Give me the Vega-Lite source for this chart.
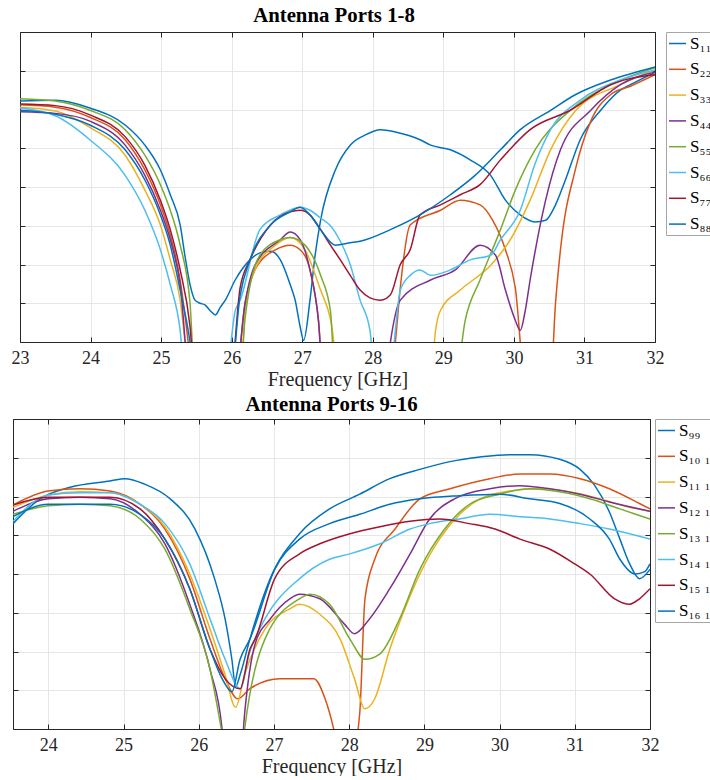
{
"$schema":"https://vega.github.io/schema/vega-lite/v6.json",
"padding":{"left":0,"top":4,"right":0,"bottom":0},
"background":"white",
"config":{
 "font":"Liberation Serif",
 "view":{"stroke":null},
 "axis":{"domain":true,"domainColor":"#262626","domainWidth":1,"grid":true,"gridColor":"#e6e6e6","tickColor":"#262626","labelFont":"Liberation Serif","labelFontSize":18,"labelColor":"#262626","titleFont":"Liberation Serif","titleFontSize":20,"titleFontWeight":"normal","titleColor":"#262626","labelFlush":false},
 "legend":{"orient":"right","padding":2,"strokeColor":"#a6a6a6","fillColor":"#ffffff","symbolType":"stroke","symbolSize":289,"symbolStrokeWidth":1.5,"labelFont":"Liberation Serif","labelFontSize":17,"labelColor":"#000000","labelOffset":3,"rowPadding":7.8,"labelLimit":60},
 "title":{"font":"Liberation Serif","fontSize":20.8,"fontWeight":"bold","color":"#000000","anchor":"middle"}
},
"datasets":{
"top":[
{"s":"S₁₁","f":23.00,"db":-8.9},{"s":"S₁₁","f":23.50,"db":-8.8},{"s":"S₁₁","f":23.99,"db":-9.8},{"s":"S₁₁","f":24.49,"db":-12.0},{"s":"S₁₁","f":24.77,"db":-14.6},{"s":"S₁₁","f":24.99,"db":-17.8},{"s":"S₁₁","f":25.13,"db":-21.0},{"s":"S₁₁","f":25.27,"db":-24.9},{"s":"S₁₁","f":25.34,"db":-29.0},{"s":"S₁₁","f":25.41,"db":-32.6},{"s":"S₁₁","f":25.48,"db":-34.6},{"s":"S₁₁","f":25.55,"db":-35.0},{"s":"S₁₁","f":25.62,"db":-35.2},{"s":"S₁₁","f":25.70,"db":-36.0},{"s":"S₁₁","f":25.77,"db":-36.5},{"s":"S₁₁","f":25.84,"db":-35.5},{"s":"S₁₁","f":25.91,"db":-34.6},{"s":"S₁₁","f":26.05,"db":-32.0},{"s":"S₁₁","f":26.26,"db":-29.4},{"s":"S₁₁","f":26.40,"db":-28.5},{"s":"S₁₁","f":26.55,"db":-28.3},{"s":"S₁₁","f":26.69,"db":-29.4},{"s":"S₁₁","f":26.83,"db":-32.6},{"s":"S₁₁","f":26.90,"db":-34.6},{"s":"S₁₁","f":26.97,"db":-38.0},{"s":"S₁₁","f":27.02,"db":-39.8},{"s":"S₁₁","f":27.11,"db":-34.6},{"s":"S₁₁","f":27.18,"db":-29.0},{"s":"S₁₁","f":27.26,"db":-24.3},{"s":"S₁₁","f":27.47,"db":-17.8},{"s":"S₁₁","f":27.68,"db":-14.6},{"s":"S₁₁","f":27.89,"db":-13.3},{"s":"S₁₁","f":28.11,"db":-12.6},{"s":"S₁₁","f":28.32,"db":-12.9},{"s":"S₁₁","f":28.67,"db":-13.9},{"s":"S₁₁","f":28.82,"db":-14.6},{"s":"S₁₁","f":29.10,"db":-15.2},{"s":"S₁₁","f":29.38,"db":-16.5},{"s":"S₁₁","f":29.67,"db":-18.5},{"s":"S₁₁","f":29.88,"db":-21.7},{"s":"S₁₁","f":30.09,"db":-23.6},{"s":"S₁₁","f":30.30,"db":-24.5},{"s":"S₁₁","f":30.45,"db":-24.3},{"s":"S₁₁","f":30.59,"db":-22.3},{"s":"S₁₁","f":30.73,"db":-19.1},{"s":"S₁₁","f":30.94,"db":-13.9},{"s":"S₁₁","f":31.23,"db":-10.1},{"s":"S₁₁","f":31.51,"db":-7.5},{"s":"S₁₁","f":31.65,"db":-6.8},{"s":"S₁₁","f":32.0,"db":-5.2},
{"s":"S₂₂","f":23.00,"db":-9.4},{"s":"S₂₂","f":23.50,"db":-9.7},{"s":"S₂₂","f":23.99,"db":-11.0},{"s":"S₂₂","f":24.49,"db":-13.9},{"s":"S₂₂","f":24.77,"db":-17.8},{"s":"S₂₂","f":24.99,"db":-22.3},{"s":"S₂₂","f":25.13,"db":-26.2},{"s":"S₂₂","f":25.27,"db":-32.0},{"s":"S₂₂","f":25.41,"db":-42},{"s":"S₂₂","f":25.45,"db":-45},{"s":"S₂₂","f":26.05,"db":-45},{"s":"S₂₂","f":26.19,"db":-35},{"s":"S₂₂","f":26.33,"db":-30.7},{"s":"S₂₂","f":26.62,"db":-28.1},{"s":"S₂₂","f":26.83,"db":-27.5},{"s":"S₂₂","f":26.97,"db":-28.1},{"s":"S₂₂","f":27.11,"db":-30.7},{"s":"S₂₂","f":27.23,"db":-37.2},{"s":"S₂₂","f":27.30,"db":-45},{"s":"S₂₂","f":28.25,"db":-45},{"s":"S₂₂","f":28.32,"db":-40},{"s":"S₂₂","f":28.39,"db":-33},{"s":"S₂₂","f":28.53,"db":-24.9},{"s":"S₂₂","f":28.96,"db":-23.0},{"s":"S₂₂","f":29.24,"db":-21.7},{"s":"S₂₂","f":29.52,"db":-22.3},{"s":"S₂₂","f":29.70,"db":-24.3},{"s":"S₂₂","f":29.88,"db":-28.1},{"s":"S₂₂","f":30.02,"db":-33},{"s":"S₂₂","f":30.16,"db":-45},{"s":"S₂₂","f":30.52,"db":-45},{"s":"S₂₂","f":30.59,"db":-35},{"s":"S₂₂","f":30.66,"db":-28.1},{"s":"S₂₂","f":30.87,"db":-17.8},{"s":"S₂₂","f":31.09,"db":-11.5},{"s":"S₂₂","f":31.37,"db":-8.1},{"s":"S₂₂","f":31.65,"db":-7.0},{"s":"S₂₂","f":32.0,"db":-5.5},
{"s":"S₃₃","f":23.00,"db":-9.7},{"s":"S₃₃","f":23.50,"db":-10.2},{"s":"S₃₃","f":23.99,"db":-12.3},{"s":"S₃₃","f":24.49,"db":-15.9},{"s":"S₃₃","f":24.77,"db":-20.4},{"s":"S₃₃","f":24.99,"db":-24.9},{"s":"S₃₃","f":25.13,"db":-29.4},{"s":"S₃₃","f":25.27,"db":-34.6},{"s":"S₃₃","f":25.34,"db":-40},{"s":"S₃₃","f":25.41,"db":-45},{"s":"S₃₃","f":26.12,"db":-45},{"s":"S₃₃","f":26.19,"db":-36},{"s":"S₃₃","f":26.33,"db":-30.7},{"s":"S₃₃","f":26.62,"db":-27.5},{"s":"S₃₃","f":26.83,"db":-26.5},{"s":"S₃₃","f":27.04,"db":-28.1},{"s":"S₃₃","f":27.26,"db":-33.3},{"s":"S₃₃","f":27.40,"db":-37},{"s":"S₃₃","f":27.54,"db":-45},{"s":"S₃₃","f":28.82,"db":-45},{"s":"S₃₃","f":28.89,"db":-38.5},{"s":"S₃₃","f":28.96,"db":-35.9},{"s":"S₃₃","f":29.24,"db":-33.3},{"s":"S₃₃","f":29.67,"db":-30.1},{"s":"S₃₃","f":29.95,"db":-26.8},{"s":"S₃₃","f":30.23,"db":-21.7},{"s":"S₃₃","f":30.52,"db":-15.2},{"s":"S₃₃","f":30.87,"db":-10.2},{"s":"S₃₃","f":31.51,"db":-6.8},{"s":"S₃₃","f":32.0,"db":-4.9},
{"s":"S₄₄","f":23.00,"db":-10.3},{"s":"S₄₄","f":23.50,"db":-10.5},{"s":"S₄₄","f":23.99,"db":-11.5},{"s":"S₄₄","f":24.49,"db":-14.6},{"s":"S₄₄","f":24.77,"db":-18.5},{"s":"S₄₄","f":24.99,"db":-23.0},{"s":"S₄₄","f":25.13,"db":-26.8},{"s":"S₄₄","f":25.27,"db":-32.6},{"s":"S₄₄","f":25.41,"db":-45},{"s":"S₄₄","f":26.05,"db":-45},{"s":"S₄₄","f":26.19,"db":-35},{"s":"S₄₄","f":26.33,"db":-30.1},{"s":"S₄₄","f":26.69,"db":-26.8},{"s":"S₄₄","f":26.83,"db":-25.8},{"s":"S₄₄","f":26.97,"db":-26.8},{"s":"S₄₄","f":27.11,"db":-30.7},{"s":"S₄₄","f":27.23,"db":-37.2},{"s":"S₄₄","f":27.30,"db":-45},{"s":"S₄₄","f":28.18,"db":-45},{"s":"S₄₄","f":28.25,"db":-40},{"s":"S₄₄","f":28.39,"db":-34.6},{"s":"S₄₄","f":28.82,"db":-32.0},{"s":"S₄₄","f":29.17,"db":-30.7},{"s":"S₄₄","f":29.52,"db":-27.5},{"s":"S₄₄","f":29.74,"db":-28.8},{"s":"S₄₄","f":29.88,"db":-33.3},{"s":"S₄₄","f":30.02,"db":-37.2},{"s":"S₄₄","f":30.09,"db":-38.5},{"s":"S₄₄","f":30.16,"db":-36},{"s":"S₄₄","f":30.23,"db":-32.0},{"s":"S₄₄","f":30.45,"db":-21.7},{"s":"S₄₄","f":30.66,"db":-15.2},{"s":"S₄₄","f":31.09,"db":-10.1},{"s":"S₄₄","f":31.51,"db":-6.8},{"s":"S₄₄","f":32.0,"db":-5.2},
{"s":"S₅₅","f":23.00,"db":-8.6},{"s":"S₅₅","f":23.50,"db":-8.9},{"s":"S₅₅","f":23.99,"db":-10.1},{"s":"S₅₅","f":24.49,"db":-12.6},{"s":"S₅₅","f":24.77,"db":-15.9},{"s":"S₅₅","f":24.99,"db":-19.7},{"s":"S₅₅","f":25.13,"db":-23.0},{"s":"S₅₅","f":25.27,"db":-27.5},{"s":"S₅₅","f":25.41,"db":-35},{"s":"S₅₅","f":25.48,"db":-45},{"s":"S₅₅","f":26.12,"db":-45},{"s":"S₅₅","f":26.19,"db":-37},{"s":"S₅₅","f":26.40,"db":-28.8},{"s":"S₅₅","f":26.69,"db":-26.8},{"s":"S₅₅","f":26.83,"db":-26.5},{"s":"S₅₅","f":27.04,"db":-27.5},{"s":"S₅₅","f":27.26,"db":-31.4},{"s":"S₅₅","f":27.40,"db":-36},{"s":"S₅₅","f":27.47,"db":-45},{"s":"S₅₅","f":29.17,"db":-45},{"s":"S₅₅","f":29.31,"db":-37.2},{"s":"S₅₅","f":29.52,"db":-32.0},{"s":"S₅₅","f":29.81,"db":-25.5},{"s":"S₅₅","f":30.02,"db":-20.4},{"s":"S₅₅","f":30.30,"db":-15.2},{"s":"S₅₅","f":30.80,"db":-10.1},{"s":"S₅₅","f":31.37,"db":-6.8},{"s":"S₅₅","f":32.0,"db":-4.6},
{"s":"S₆₆","f":23.00,"db":-9.8},{"s":"S₆₆","f":23.50,"db":-10.8},{"s":"S₆₆","f":23.99,"db":-13.9},{"s":"S₆₆","f":24.49,"db":-18.5},{"s":"S₆₆","f":24.77,"db":-23.0},{"s":"S₆₆","f":24.99,"db":-28.1},{"s":"S₆₆","f":25.13,"db":-32.6},{"s":"S₆₆","f":25.27,"db":-38.5},{"s":"S₆₆","f":25.34,"db":-45},{"s":"S₆₆","f":25.91,"db":-45},{"s":"S₆₆","f":26.05,"db":-36},{"s":"S₆₆","f":26.12,"db":-34.6},{"s":"S₆₆","f":26.40,"db":-25.5},{"s":"S₆₆","f":26.69,"db":-23.6},{"s":"S₆₆","f":26.97,"db":-22.6},{"s":"S₆₆","f":27.11,"db":-23.0},{"s":"S₆₆","f":27.26,"db":-24.0},{"s":"S₆₆","f":27.40,"db":-25.0},{"s":"S₆₆","f":27.54,"db":-27},{"s":"S₆₆","f":27.68,"db":-30},{"s":"S₆₆","f":27.82,"db":-34.6},{"s":"S₆₆","f":27.96,"db":-38.5},{"s":"S₆₆","f":28.04,"db":-45},{"s":"S₆₆","f":28.25,"db":-45},{"s":"S₆₆","f":28.32,"db":-38.5},{"s":"S₆₆","f":28.39,"db":-33.3},{"s":"S₆₆","f":28.53,"db":-31.4},{"s":"S₆₆","f":28.67,"db":-30.7},{"s":"S₆₆","f":28.82,"db":-31.4},{"s":"S₆₆","f":29.10,"db":-30.7},{"s":"S₆₆","f":29.38,"db":-29.4},{"s":"S₆₆","f":29.67,"db":-28.8},{"s":"S₆₆","f":29.81,"db":-26.8},{"s":"S₆₆","f":30.09,"db":-23.0},{"s":"S₆₆","f":30.30,"db":-17},{"s":"S₆₆","f":30.52,"db":-12.6},{"s":"S₆₆","f":30.94,"db":-8.8},{"s":"S₆₆","f":31.51,"db":-6.2},{"s":"S₆₆","f":32.0,"db":-4.9},
{"s":"S₇₇","f":23.00,"db":-9.3},{"s":"S₇₇","f":23.50,"db":-9.5},{"s":"S₇₇","f":23.99,"db":-10.7},{"s":"S₇₇","f":24.49,"db":-13.5},{"s":"S₇₇","f":24.77,"db":-17.2},{"s":"S₇₇","f":24.99,"db":-21.7},{"s":"S₇₇","f":25.13,"db":-25.5},{"s":"S₇₇","f":25.27,"db":-30.7},{"s":"S₇₇","f":25.41,"db":-38},{"s":"S₇₇","f":25.48,"db":-45},{"s":"S₇₇","f":25.98,"db":-45},{"s":"S₇₇","f":26.12,"db":-33},{"s":"S₇₇","f":26.26,"db":-29.4},{"s":"S₇₇","f":26.55,"db":-24.9},{"s":"S₇₇","f":26.83,"db":-23.2},{"s":"S₇₇","f":26.97,"db":-23.0},{"s":"S₇₇","f":27.11,"db":-23.6},{"s":"S₇₇","f":27.26,"db":-25.5},{"s":"S₇₇","f":27.40,"db":-27.5},{"s":"S₇₇","f":27.54,"db":-29.4},{"s":"S₇₇","f":27.68,"db":-31.4},{"s":"S₇₇","f":27.82,"db":-33.3},{"s":"S₇₇","f":27.96,"db":-34.3},{"s":"S₇₇","f":28.11,"db":-34.6},{"s":"S₇₇","f":28.25,"db":-33.9},{"s":"S₇₇","f":28.39,"db":-30.0},{"s":"S₇₇","f":28.53,"db":-28.1},{"s":"S₇₇","f":28.67,"db":-23.6},{"s":"S₇₇","f":28.96,"db":-22.3},{"s":"S₇₇","f":29.24,"db":-21.0},{"s":"S₇₇","f":29.52,"db":-19.7},{"s":"S₇₇","f":29.81,"db":-16.5},{"s":"S₇₇","f":30.23,"db":-12.6},{"s":"S₇₇","f":30.80,"db":-10.1},{"s":"S₇₇","f":31.37,"db":-6.8},{"s":"S₇₇","f":32.0,"db":-5.5},
{"s":"S₈₈","f":23.00,"db":-10.1},{"s":"S₈₈","f":23.50,"db":-10.6},{"s":"S₈₈","f":23.99,"db":-12.0},{"s":"S₈₈","f":24.49,"db":-15.2},{"s":"S₈₈","f":24.77,"db":-19.1},{"s":"S₈₈","f":24.99,"db":-23.6},{"s":"S₈₈","f":25.13,"db":-27.5},{"s":"S₈₈","f":25.27,"db":-33.3},{"s":"S₈₈","f":25.41,"db":-40},{"s":"S₈₈","f":25.48,"db":-45},{"s":"S₈₈","f":25.98,"db":-45},{"s":"S₈₈","f":26.12,"db":-34},{"s":"S₈₈","f":26.26,"db":-29.4},{"s":"S₈₈","f":26.55,"db":-24.9},{"s":"S₈₈","f":26.83,"db":-23.2},{"s":"S₈₈","f":26.97,"db":-22.6},{"s":"S₈₈","f":27.11,"db":-23.6},{"s":"S₈₈","f":27.26,"db":-25.5},{"s":"S₈₈","f":27.47,"db":-27.5},{"s":"S₈₈","f":27.68,"db":-27.2},{"s":"S₈₈","f":27.82,"db":-27.0},{"s":"S₈₈","f":28.25,"db":-25.5},{"s":"S₈₈","f":28.67,"db":-23.6},{"s":"S₈₈","f":29.10,"db":-21.0},{"s":"S₈₈","f":29.45,"db":-18.5},{"s":"S₈₈","f":29.81,"db":-15.2},{"s":"S₈₈","f":30.09,"db":-12.6},{"s":"S₈₈","f":30.52,"db":-10.1},{"s":"S₈₈","f":30.87,"db":-8.1},{"s":"S₈₈","f":31.37,"db":-6.2},{"s":"S₈₈","f":32.0,"db":-4.5}
],
"bot":[
{"s":"S₉₉","f":23.53,"db":-13.5},{"s":"S₉₉","f":23.89,"db":-10.3},{"s":"S₉₉","f":24.29,"db":-8.8},{"s":"S₉₉","f":24.82,"db":-8.0},{"s":"S₉₉","f":25.02,"db":-7.7},{"s":"S₉₉","f":25.28,"db":-8.4},{"s":"S₉₉","f":25.62,"db":-10.3},{"s":"S₉₉","f":25.95,"db":-14.2},{"s":"S₉₉","f":26.21,"db":-20.6},{"s":"S₉₉","f":26.35,"db":-25.8},{"s":"S₉₉","f":26.44,"db":-31.0},{"s":"S₉₉","f":26.49,"db":-34.5},{"s":"S₉₉","f":26.55,"db":-33},{"s":"S₉₉","f":26.68,"db":-28.4},{"s":"S₉₉","f":26.95,"db":-20.6},{"s":"S₉₉","f":27.34,"db":-14.8},{"s":"S₉₉","f":27.74,"db":-11.6},{"s":"S₉₉","f":28.14,"db":-9.7},{"s":"S₉₉","f":28.54,"db":-7.7},{"s":"S₉₉","f":28.94,"db":-6.5},{"s":"S₉₉","f":29.34,"db":-5.5},{"s":"S₉₉","f":29.74,"db":-4.9},{"s":"S₉₉","f":30.13,"db":-4.6},{"s":"S₉₉","f":30.40,"db":-4.6},{"s":"S₉₉","f":30.80,"db":-5.2},{"s":"S₉₉","f":31.07,"db":-6.5},{"s":"S₉₉","f":31.26,"db":-8.5},{"s":"S₉₉","f":31.46,"db":-12},{"s":"S₉₉","f":31.60,"db":-15.5},{"s":"S₉₉","f":31.73,"db":-18.7},{"s":"S₉₉","f":31.86,"db":-20.6},{"s":"S₉₉","f":32.0,"db":-19.4},
{"s":"S₁₀ ₁₀","f":23.53,"db":-11.1},{"s":"S₁₀ ₁₀","f":24.0,"db":-9.3},{"s":"S₁₀ ₁₀","f":24.42,"db":-9.0},{"s":"S₁₀ ₁₀","f":24.82,"db":-9.3},{"s":"S₁₀ ₁₀","f":25.22,"db":-11.0},{"s":"S₁₀ ₁₀","f":25.55,"db":-14.2},{"s":"S₁₀ ₁₀","f":25.88,"db":-20.6},{"s":"S₁₀ ₁₀","f":26.15,"db":-28.4},{"s":"S₁₀ ₁₀","f":26.35,"db":-33.5},{"s":"S₁₀ ₁₀","f":26.52,"db":-36.1},{"s":"S₁₀ ₁₀","f":26.68,"db":-34.8},{"s":"S₁₀ ₁₀","f":27.08,"db":-33.5},{"s":"S₁₀ ₁₀","f":27.53,"db":-33.5},{"s":"S₁₀ ₁₀","f":27.68,"db":-36.1},{"s":"S₁₀ ₁₀","f":27.84,"db":-42},{"s":"S₁₀ ₁₀","f":27.90,"db":-45},{"s":"S₁₀ ₁₀","f":28.01,"db":-45},{"s":"S₁₀ ₁₀","f":28.14,"db":-38},{"s":"S₁₀ ₁₀","f":28.21,"db":-23.2},{"s":"S₁₀ ₁₀","f":28.34,"db":-18.1},{"s":"S₁₀ ₁₀","f":28.61,"db":-14.2},{"s":"S₁₀ ₁₀","f":28.94,"db":-10.3},{"s":"S₁₀ ₁₀","f":29.34,"db":-9.0},{"s":"S₁₀ ₁₀","f":29.87,"db":-7.7},{"s":"S₁₀ ₁₀","f":30.27,"db":-7.1},{"s":"S₁₀ ₁₀","f":30.67,"db":-7.1},{"s":"S₁₀ ₁₀","f":31.07,"db":-7.7},{"s":"S₁₀ ₁₀","f":31.46,"db":-9.0},{"s":"S₁₀ ₁₀","f":31.86,"db":-10.9},{"s":"S₁₀ ₁₀","f":32.0,"db":-11.6},
{"s":"S₁₁ ₁₁","f":23.53,"db":-11.4},{"s":"S₁₁ ₁₁","f":24.0,"db":-9.8},{"s":"S₁₁ ₁₁","f":24.42,"db":-9.4},{"s":"S₁₁ ₁₁","f":24.82,"db":-9.5},{"s":"S₁₁ ₁₁","f":25.22,"db":-11.0},{"s":"S₁₁ ₁₁","f":25.55,"db":-13.9},{"s":"S₁₁ ₁₁","f":25.88,"db":-20.0},{"s":"S₁₁ ₁₁","f":26.15,"db":-27.1},{"s":"S₁₁ ₁₁","f":26.35,"db":-33},{"s":"S₁₁ ₁₁","f":26.49,"db":-37.2},{"s":"S₁₁ ₁₁","f":26.61,"db":-33},{"s":"S₁₁ ₁₁","f":26.88,"db":-27.1},{"s":"S₁₁ ₁₁","f":27.21,"db":-24.5},{"s":"S₁₁ ₁₁","f":27.34,"db":-23.9},{"s":"S₁₁ ₁₁","f":27.61,"db":-25.2},{"s":"S₁₁ ₁₁","f":27.88,"db":-28.4},{"s":"S₁₁ ₁₁","f":28.07,"db":-33.5},{"s":"S₁₁ ₁₁","f":28.21,"db":-37.4},{"s":"S₁₁ ₁₁","f":28.34,"db":-36.1},{"s":"S₁₁ ₁₁","f":28.54,"db":-29.7},{"s":"S₁₁ ₁₁","f":28.74,"db":-24.5},{"s":"S₁₁ ₁₁","f":28.94,"db":-20.0},{"s":"S₁₁ ₁₁","f":29.20,"db":-15.5},{"s":"S₁₁ ₁₁","f":29.47,"db":-12.3},{"s":"S₁₁ ₁₁","f":29.74,"db":-10.3},{"s":"S₁₁ ₁₁","f":30.13,"db":-9.3},{"s":"S₁₁ ₁₁","f":30.53,"db":-9.0},{"s":"S₁₁ ₁₁","f":30.93,"db":-9.4},{"s":"S₁₁ ₁₁","f":31.33,"db":-10.3},{"s":"S₁₁ ₁₁","f":31.73,"db":-11.4},{"s":"S₁₁ ₁₁","f":32.0,"db":-11.9},
{"s":"S₁₂ ₁₂","f":23.53,"db":-11.9},{"s":"S₁₂ ₁₂","f":24.0,"db":-10.3},{"s":"S₁₂ ₁₂","f":24.42,"db":-10.1},{"s":"S₁₂ ₁₂","f":24.82,"db":-10.3},{"s":"S₁₂ ₁₂","f":25.22,"db":-12.3},{"s":"S₁₂ ₁₂","f":25.55,"db":-16.1},{"s":"S₁₂ ₁₂","f":25.88,"db":-23.9},{"s":"S₁₂ ₁₂","f":26.15,"db":-32.3},{"s":"S₁₂ ₁₂","f":26.31,"db":-40},{"s":"S₁₂ ₁₂","f":26.35,"db":-45},{"s":"S₁₂ ₁₂","f":26.55,"db":-45},{"s":"S₁₂ ₁₂","f":26.61,"db":-38},{"s":"S₁₂ ₁₂","f":26.75,"db":-29},{"s":"S₁₂ ₁₂","f":26.95,"db":-25.8},{"s":"S₁₂ ₁₂","f":27.21,"db":-23.2},{"s":"S₁₂ ₁₂","f":27.34,"db":-22.6},{"s":"S₁₂ ₁₂","f":27.61,"db":-23.2},{"s":"S₁₂ ₁₂","f":27.94,"db":-26.5},{"s":"S₁₂ ₁₂","f":28.07,"db":-27.7},{"s":"S₁₂ ₁₂","f":28.27,"db":-25.8},{"s":"S₁₂ ₁₂","f":28.54,"db":-21.9},{"s":"S₁₂ ₁₂","f":28.81,"db":-17.4},{"s":"S₁₂ ₁₂","f":29.07,"db":-12.9},{"s":"S₁₂ ₁₂","f":29.40,"db":-10.3},{"s":"S₁₂ ₁₂","f":29.87,"db":-9.0},{"s":"S₁₂ ₁₂","f":30.27,"db":-8.6},{"s":"S₁₂ ₁₂","f":30.67,"db":-9.0},{"s":"S₁₂ ₁₂","f":31.07,"db":-9.7},{"s":"S₁₂ ₁₂","f":31.46,"db":-10.7},{"s":"S₁₂ ₁₂","f":32.0,"db":-11.9},
{"s":"S₁₃ ₁₃","f":23.53,"db":-12.3},{"s":"S₁₃ ₁₃","f":24.0,"db":-11.2},{"s":"S₁₃ ₁₃","f":24.42,"db":-11.0},{"s":"S₁₃ ₁₃","f":24.82,"db":-11.2},{"s":"S₁₃ ₁₃","f":25.22,"db":-12.9},{"s":"S₁₃ ₁₃","f":25.55,"db":-16.8},{"s":"S₁₃ ₁₃","f":25.88,"db":-24.5},{"s":"S₁₃ ₁₃","f":26.15,"db":-32.3},{"s":"S₁₃ ₁₃","f":26.30,"db":-40},{"s":"S₁₃ ₁₃","f":26.39,"db":-45},{"s":"S₁₃ ₁₃","f":26.55,"db":-45},{"s":"S₁₃ ₁₃","f":26.61,"db":-40},{"s":"S₁₃ ₁₃","f":26.88,"db":-28.4},{"s":"S₁₃ ₁₃","f":27.34,"db":-23.2},{"s":"S₁₃ ₁₃","f":27.48,"db":-22.6},{"s":"S₁₃ ₁₃","f":27.74,"db":-23.9},{"s":"S₁₃ ₁₃","f":28.01,"db":-28.4},{"s":"S₁₃ ₁₃","f":28.21,"db":-31.0},{"s":"S₁₃ ₁₃","f":28.41,"db":-30.3},{"s":"S₁₃ ₁₃","f":28.67,"db":-25.8},{"s":"S₁₃ ₁₃","f":28.94,"db":-19.4},{"s":"S₁₃ ₁₃","f":29.27,"db":-14.2},{"s":"S₁₃ ₁₃","f":29.60,"db":-11.0},{"s":"S₁₃ ₁₃","f":30.00,"db":-9.7},{"s":"S₁₃ ₁₃","f":30.40,"db":-9.0},{"s":"S₁₃ ₁₃","f":30.80,"db":-9.4},{"s":"S₁₃ ₁₃","f":31.20,"db":-10.3},{"s":"S₁₃ ₁₃","f":31.60,"db":-11.6},{"s":"S₁₃ ₁₃","f":32.0,"db":-12.9},
{"s":"S₁₄ ₁₄","f":23.53,"db":-13.2},{"s":"S₁₄ ₁₄","f":24.0,"db":-9.8},{"s":"S₁₄ ₁₄","f":24.42,"db":-9.5},{"s":"S₁₄ ₁₄","f":24.82,"db":-9.5},{"s":"S₁₄ ₁₄","f":25.22,"db":-11.0},{"s":"S₁₄ ₁₄","f":25.55,"db":-13.5},{"s":"S₁₄ ₁₄","f":25.88,"db":-18.7},{"s":"S₁₄ ₁₄","f":26.15,"db":-25.8},{"s":"S₁₄ ₁₄","f":26.35,"db":-31},{"s":"S₁₄ ₁₄","f":26.55,"db":-34.8},{"s":"S₁₄ ₁₄","f":26.68,"db":-30},{"s":"S₁₄ ₁₄","f":26.88,"db":-25.8},{"s":"S₁₄ ₁₄","f":27.34,"db":-20.6},{"s":"S₁₄ ₁₄","f":27.74,"db":-18.1},{"s":"S₁₄ ₁₄","f":28.01,"db":-17.4},{"s":"S₁₄ ₁₄","f":28.41,"db":-16.1},{"s":"S₁₄ ₁₄","f":28.81,"db":-14.2},{"s":"S₁₄ ₁₄","f":29.07,"db":-13.5},{"s":"S₁₄ ₁₄","f":29.47,"db":-12.9},{"s":"S₁₄ ₁₄","f":29.87,"db":-12.3},{"s":"S₁₄ ₁₄","f":30.27,"db":-12.6},{"s":"S₁₄ ₁₄","f":30.67,"db":-12.9},{"s":"S₁₄ ₁₄","f":31.07,"db":-13.5},{"s":"S₁₄ ₁₄","f":31.46,"db":-14.2},{"s":"S₁₄ ₁₄","f":32.0,"db":-15.5},
{"s":"S₁₅ ₁₅","f":23.53,"db":-11.1},{"s":"S₁₅ ₁₅","f":24.0,"db":-10.1},{"s":"S₁₅ ₁₅","f":24.42,"db":-10.1},{"s":"S₁₅ ₁₅","f":24.82,"db":-10.1},{"s":"S₁₅ ₁₅","f":25.22,"db":-11.6},{"s":"S₁₅ ₁₅","f":25.55,"db":-15.5},{"s":"S₁₅ ₁₅","f":25.88,"db":-21.9},{"s":"S₁₅ ₁₅","f":26.15,"db":-29.7},{"s":"S₁₅ ₁₅","f":26.35,"db":-33.5},{"s":"S₁₅ ₁₅","f":26.55,"db":-34.8},{"s":"S₁₅ ₁₅","f":26.68,"db":-29.7},{"s":"S₁₅ ₁₅","f":26.75,"db":-28.4},{"s":"S₁₅ ₁₅","f":27.01,"db":-20.6},{"s":"S₁₅ ₁₅","f":27.34,"db":-17.4},{"s":"S₁₅ ₁₅","f":27.61,"db":-16.1},{"s":"S₁₅ ₁₅","f":28.01,"db":-14.8},{"s":"S₁₅ ₁₅","f":28.41,"db":-13.9},{"s":"S₁₅ ₁₅","f":28.81,"db":-13.2},{"s":"S₁₅ ₁₅","f":29.20,"db":-12.9},{"s":"S₁₅ ₁₅","f":29.60,"db":-13.5},{"s":"S₁₅ ₁₅","f":29.94,"db":-14.2},{"s":"S₁₅ ₁₅","f":30.27,"db":-15.5},{"s":"S₁₅ ₁₅","f":30.67,"db":-16.8},{"s":"S₁₅ ₁₅","f":31.00,"db":-18.7},{"s":"S₁₅ ₁₅","f":31.20,"db":-20.0},{"s":"S₁₅ ₁₅","f":31.53,"db":-23.2},{"s":"S₁₅ ₁₅","f":31.73,"db":-23.9},{"s":"S₁₅ ₁₅","f":31.86,"db":-23.2},{"s":"S₁₅ ₁₅","f":32.0,"db":-21.9},
{"s":"S₁₆ ₁₆","f":23.53,"db":-12.6},{"s":"S₁₆ ₁₆","f":24.0,"db":-11.0},{"s":"S₁₆ ₁₆","f":24.42,"db":-11.0},{"s":"S₁₆ ₁₆","f":24.82,"db":-11.0},{"s":"S₁₆ ₁₆","f":25.22,"db":-12.3},{"s":"S₁₆ ₁₆","f":25.55,"db":-15.5},{"s":"S₁₆ ₁₆","f":25.88,"db":-21.9},{"s":"S₁₆ ₁₆","f":26.15,"db":-29.7},{"s":"S₁₆ ₁₆","f":26.31,"db":-33.5},{"s":"S₁₆ ₁₆","f":26.44,"db":-35.2},{"s":"S₁₆ ₁₆","f":26.55,"db":-31},{"s":"S₁₆ ₁₆","f":26.68,"db":-28.4},{"s":"S₁₆ ₁₆","f":27.01,"db":-19.4},{"s":"S₁₆ ₁₆","f":27.34,"db":-15.5},{"s":"S₁₆ ₁₆","f":27.74,"db":-13.5},{"s":"S₁₆ ₁₆","f":28.14,"db":-12.3},{"s":"S₁₆ ₁₆","f":28.54,"db":-11.0},{"s":"S₁₆ ₁₆","f":28.94,"db":-10.3},{"s":"S₁₆ ₁₆","f":29.47,"db":-9.9},{"s":"S₁₆ ₁₆","f":30.00,"db":-9.7},{"s":"S₁₆ ₁₆","f":30.40,"db":-10.3},{"s":"S₁₆ ₁₆","f":30.80,"db":-10.9},{"s":"S₁₆ ₁₆","f":31.20,"db":-12.9},{"s":"S₁₆ ₁₆","f":31.46,"db":-15.5},{"s":"S₁₆ ₁₆","f":31.60,"db":-18.1},{"s":"S₁₆ ₁₆","f":31.80,"db":-20.0},{"s":"S₁₆ ₁₆","f":31.93,"db":-19.7},{"s":"S₁₆ ₁₆","f":32.0,"db":-18.7}
]
},
"spacing":4,
"resolve":{"scale":{"color":"independent","x":"independent","y":"independent"},"legend":{"color":"independent"}},
"vconcat":[
{
 "width":642,"height":310,
 "title":{"text":"Antenna Ports 1-8","frame":"group","offset":5},
 "data":{"name":"top"},
 "layer":[
  {
   "mark":{"type":"line","interpolate":"monotone","clip":true,"strokeWidth":1.5},
   "encoding":{
    "x":{"field":"f","type":"quantitative","scale":{"domain":[23,32],"nice":false,"zero":false,"range":[7,642]},"axis":{"orient":"bottom","title":"Frequency [GHz]","values":[23,24,25,26,27,28,29,30,31,32],"labelPadding":12,"tickSize":-5,"titlePadding":2}},
    "y":{"field":"db","type":"quantitative","scale":{"domain":[-40,0],"nice":false,"zero":false},"axis":{"orient":"left","title":null,"labels":false,"values":[-40,-35,-30,-25,-20,-15,-10,-5,0],"tickSize":-5,"offset":-7,"minExtent":20,"maxExtent":20}},
    "color":{"field":"s","type":"nominal","scale":{"domain":["S₁₁","S₂₂","S₃₃","S₄₄","S₅₅","S₆₆","S₇₇","S₈₈"],"range":["#0072BD","#D95319","#EDB120","#7E2F8E","#77AC30","#4DBEEE","#A2142F","#0072BD"]},"legend":{"title":null,"offset":10}}
   }
  },
  {
   "mark":{"type":"line","strokeOpacity":0,"clip":true},
   "encoding":{
    "x":{"field":"f","type":"quantitative","axis":{"orient":"top","title":null,"labels":false,"grid":false,"values":[23,24,25,26,27,28,29,30,31,32],"tickSize":-5}},
    "y":{"field":"db","type":"quantitative","axis":{"orient":"right","title":null,"labels":false,"grid":false,"values":[-40,-35,-30,-25,-20,-15,-10,-5,0],"tickSize":-5,"minExtent":0,"maxExtent":0}},
    "detail":{"field":"s"}
   }
  }
 ],
 "resolve":{"axis":{"x":"independent","y":"independent"}}
},
{
 "width":637,"height":310,
 "title":{"text":"Antenna Ports 9-16","frame":"group","offset":3},
 "data":{"name":"bot"},
 "layer":[
  {
   "mark":{"type":"line","interpolate":"monotone","clip":true,"strokeWidth":1.5},
   "encoding":{
    "x":{"field":"f","type":"quantitative","scale":{"domain":[23.53,32],"nice":false,"zero":false},"axis":{"orient":"bottom","title":"Frequency [GHz]","values":[24,25,26,27,28,29,30,31,32],"labelPadding":12,"tickSize":-5,"titlePadding":2}},
    "y":{"field":"db","type":"quantitative","scale":{"domain":[-40,0],"nice":false,"zero":false},"axis":{"orient":"left","title":null,"labels":false,"values":[-40,-35,-30,-25,-20,-15,-10,-5,0],"tickSize":-5,"minExtent":13,"maxExtent":13}},
    "color":{"field":"s","type":"nominal","scale":{"domain":["S₉₉","S₁₀ ₁₀","S₁₁ ₁₁","S₁₂ ₁₂","S₁₃ ₁₃","S₁₄ ₁₄","S₁₅ ₁₅","S₁₆ ₁₆"],"range":["#0072BD","#D95319","#EDB120","#7E2F8E","#77AC30","#4DBEEE","#A2142F","#0072BD"]},"legend":{"title":null,"offset":4,"labelExpr":"substring(datum.label,0,5)"}}
   }
  },
  {
   "mark":{"type":"line","strokeOpacity":0,"clip":true},
   "encoding":{
    "x":{"field":"f","type":"quantitative","axis":{"orient":"top","title":null,"labels":false,"grid":false,"values":[24,25,26,27,28,29,30,31,32],"tickSize":-5}},
    "y":{"field":"db","type":"quantitative","axis":{"orient":"right","title":null,"labels":false,"grid":false,"values":[-40,-35,-30,-25,-20,-15,-10,-5,0],"tickSize":-5,"minExtent":0,"maxExtent":0}},
    "detail":{"field":"s"}
   }
  }
 ],
 "resolve":{"axis":{"x":"independent","y":"independent"}}
}
]
}
